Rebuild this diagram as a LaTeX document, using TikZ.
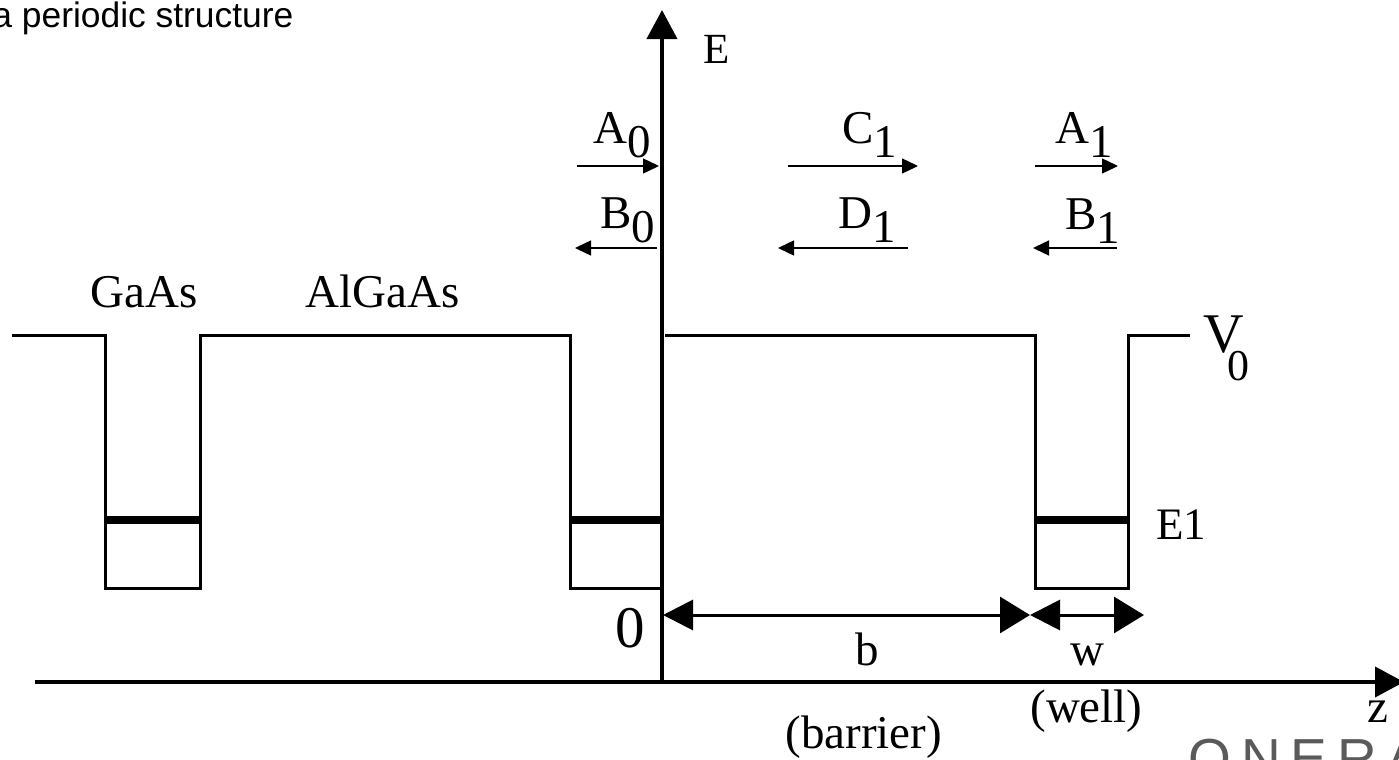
\documentclass[tikz,border=0pt]{standalone}
\usepackage{fontspec}
\setmainfont{Liberation Serif}
\newfontfamily\headfont{Liberation Sans}
\newfontfamily\logofont[LetterSpace=18]{Liberation Sans}
\usetikzlibrary{arrows.meta}
\definecolor{logogray}{HTML}{5A5A5A}
% lowered, full-size index (as in the slide)
\newcommand{\dn}[2][7pt]{\raisebox{-#1}{#2}}

\begin{document}
\begin{tikzpicture}[
    x=0.5pt, y=-0.5pt,
    profile/.style={line width=1.5pt, line join=miter},
    elevel/.style={line width=4pt},
    axisline/.style={line width=2pt, -{Triangle[length=14.5pt, width=15pt]}},
    ampl/.style={line width=0.7pt, -{Triangle[length=8pt, width=7.5pt]}},
    dimarrow/.style={line width=1.5pt,
        {Triangle[length=15pt, width=15pt]}-{Triangle[length=15pt, width=18pt]}},
    lbl/.style={anchor=base west, inner sep=0pt, font=\fontsize{23.5}{26}\selectfont},
]
\useasboundingbox (0,0) rectangle (1399,760);

% =============================================
% TITLE
% =============================================
\node[anchor=base west, inner sep=0pt, font=\headfont\fontsize{17.7}{20}\selectfont]
    (title) at (-8,27) {a periodic structure};

% =============================================
% AXES
% =============================================
\coordinate (orig) at (662,682);
\draw[axisline] (35,682) -- (1404,682);
\draw[axisline] (orig) -- (662,10);
\node[lbl, font=\fontsize{21.5}{24}\selectfont] (elabel) at (703,63) {E};
\node[lbl] (zlabel) at (1367,722) {z};
\node[lbl, font=\fontsize{29.5}{32}\selectfont] (zero) at (615,647) {0};

% =============================================
% POTENTIAL PROFILE -- wells and barriers
% =============================================
\draw[profile] (12,335) -- (105,335) -- (105,588) -- (200,588) -- (200,335)
    -- (570,335) -- (570,588) -- (662,588);
\draw[profile] (665,335) -- (1035,335) -- (1035,588) -- (1128,588) -- (1128,335)
    -- (1190,335);

% Bound states E1
\draw[elevel] (105,520) -- (200,520);
\draw[elevel] (570,520) -- (662,520);
\draw[elevel] (1035,520) -- (1128,520);

% Material and level labels
\node[lbl] (gaas) at (90,307) {GaAs};
\node[lbl] (algaas) at (305,307) {AlGaAs};
\node[lbl, font=\fontsize{28}{30}\selectfont] (vzero) at (1203,352)
    {V\kern-8pt\dn[14pt]{\fontsize{22}{24}\selectfont 0}};
\node[lbl, font=\fontsize{22.5}{25}\selectfont] (eone) at (1156,539) {E1};

% =============================================
% AMPLITUDES -- forward / backward waves
% =============================================
\draw[ampl] (577,166) -- (659,166);
\draw[ampl] (657,248) -- (575,248);
\draw[ampl] (788,166) -- (918,166);
\draw[ampl] (908,248) -- (778,248);
\draw[ampl] (1035,166) -- (1118,166);
\draw[ampl] (1117,248) -- (1033,248);

\node[lbl] (a0) at (593,143) {A\dn{0}};
\node[lbl] (b0) at (600,228) {B\dn{0}};
\node[lbl] (c1) at (842,143) {C\dn{1}};
\node[lbl] (d1) at (838,228) {D\dn{1}};
\node[lbl] (a1) at (1055,143) {A\dn{1}};
\node[lbl] (b1) at (1065,229) {B\dn{1}};

% =============================================
% WIDTHS -- barrier b and well w
% =============================================
\coordinate (bl) at (663,615);
\coordinate (br) at (1030,615);
\coordinate (wr) at (1144,615);
\draw[dimarrow] (bl) -- (br);
\draw[dimarrow] (br) -- (wr);

\node[lbl] (blabel) at (855,665) {b};
\node[lbl] (wlabel) at (1070,665) {w};
\node[lbl] (well) at (1030,722) {(well)};
\node[lbl] (barrier) at (785,748) {(barrier)};

% Logo, cut by the page edge
\node[anchor=base west, inner sep=0pt, logogray,
      font=\logofont\fontsize{27.5}{30}\selectfont] (logo) at (1188,777) {ONERA};

\end{tikzpicture}
\end{document}
